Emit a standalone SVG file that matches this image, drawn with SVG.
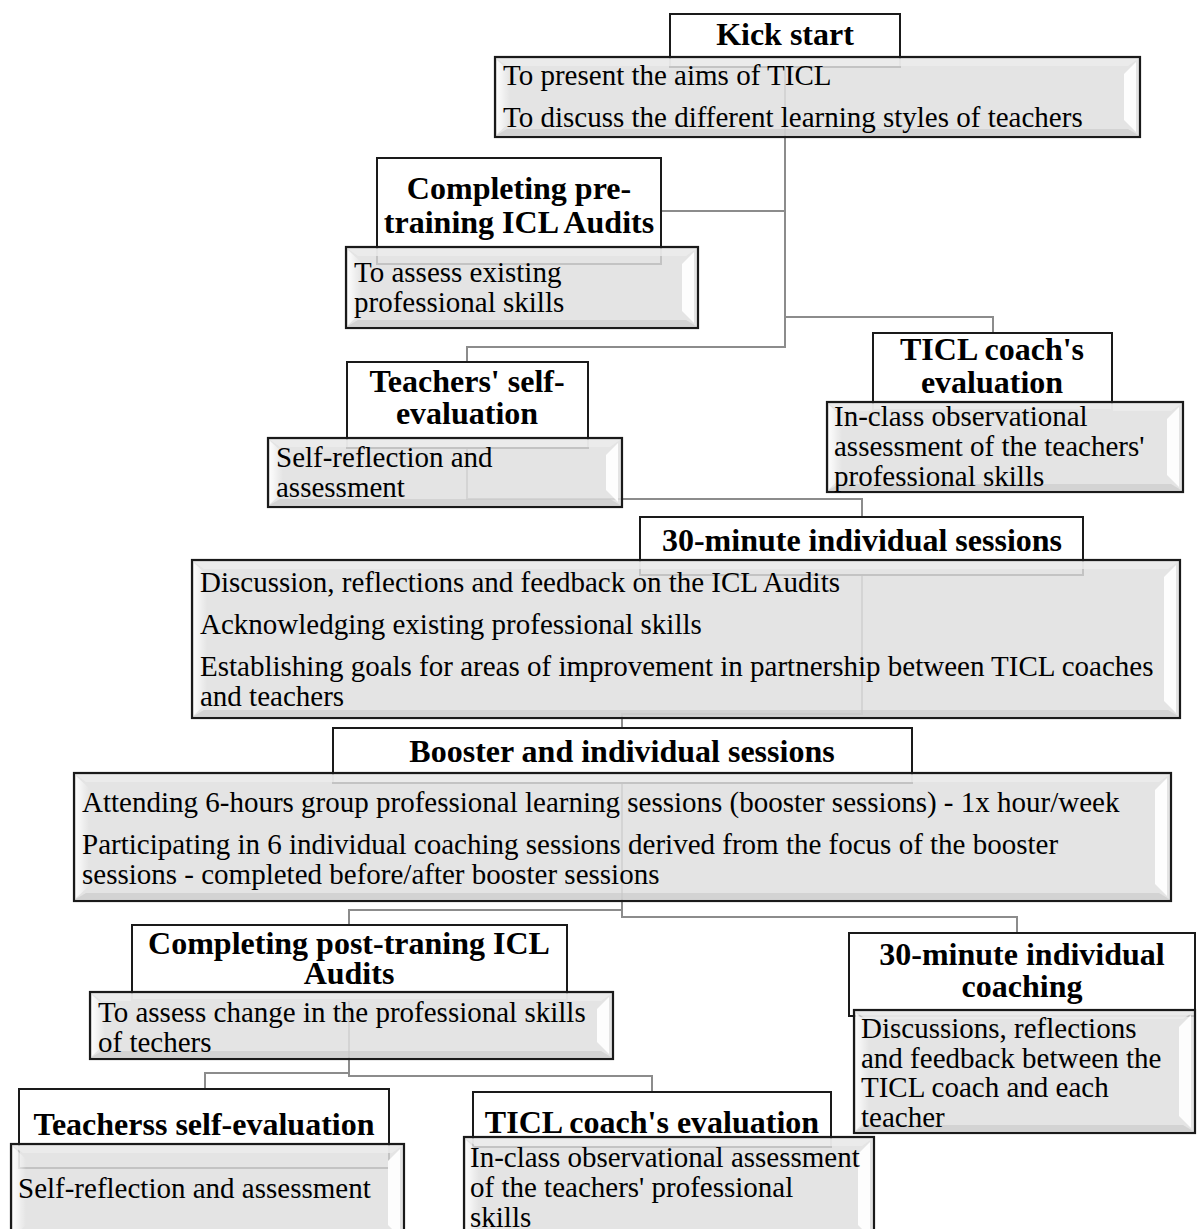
<svg xmlns="http://www.w3.org/2000/svg" width="1199" height="1229" viewBox="0 0 1199 1229">
<defs>
<style>
.hd{fill:#fff;stroke:#1a1a1a;stroke-width:2}
.bd{fill:#dfdfdf;fill-opacity:.86;stroke:#1a1a1a;stroke-width:2.2}
.hr{fill:#fff;opacity:.92}
.hl{fill:url(#lg)}
.tp{fill:#ececec;opacity:.8}
.bt{fill:#c4c4c4;opacity:.55}
.ht{font-family:"Liberation Serif","Times New Roman",serif;font-weight:bold;font-size:32px;fill:#000;text-anchor:middle}
.bx{font-family:"Liberation Serif","Times New Roman",serif;font-size:29px;fill:#000}
.cn{fill:none;stroke:#8c8c8c;stroke-width:2}
</style>
<linearGradient id="lg" x1="0" y1="0" x2="1" y2="0">
<stop offset="0" stop-color="#fff" stop-opacity=".9"/>
<stop offset="1" stop-color="#fff" stop-opacity="0"/>
</linearGradient>
</defs>
<rect width="1199" height="1229" fill="#fff"/>
<g id="connectors">
<path class="cn" d="M785,57 V347 H467 V362"/>
<path class="cn" d="M785,211 H661"/>
<path class="cn" d="M785,317 H993 V333"/>
<path class="cn" d="M467,438 V499 H862 V517"/>
<path class="cn" d="M862,560 V714 H622 V728"/>
<path class="cn" d="M622,773 V910 H349 V925"/>
<path class="cn" d="M622,910 V917 H1017 V933"/>
<path class="cn" d="M349,992 V1073 H205 V1089"/>
<path class="cn" d="M349,1073 V1076 H652 V1092"/>
</g>
<g id="kick-start">
<rect class="hd" x="670" y="14" width="230" height="53"/>
<rect class="bd" x="495" y="57" width="645" height="80"/>
<polygon class="tp" points="497,59 1138,59 1128,66 507,66"/>
<polygon class="bt" points="497,135 1138,135 1128,129 507,129"/>
<polygon class="hl" points="497,60 510,72 510,122 497,134"/>
<polygon class="hr" points="1136,62 1136,132 1124,120 1124,74"/>
<text class="ht" x="785" y="45">Kick start</text>
<text class="bx" x="503" y="85">To present the aims of TICL</text>
<text class="bx" x="503" y="127">To discuss the different learning styles of teachers</text>
</g>
<g id="pre-audits">
<rect class="hd" x="377" y="158" width="284" height="106"/>
<rect class="bd" x="346" y="247" width="352" height="81"/>
<polygon class="tp" points="348,249 696,249 686,256 358,256"/>
<polygon class="bt" points="348,326 696,326 686,320 358,320"/>
<polygon class="hl" points="348,250 361,262 361,313 348,325"/>
<polygon class="hr" points="694,252 694,323 682,311 682,264"/>
<text class="ht" x="519" y="199">Completing pre-</text>
<text class="ht" x="519" y="233">training ICL Audits</text>
<text class="bx" x="354" y="282">To assess existing</text>
<text class="bx" x="354" y="312">professional skills</text>
</g>
<g id="teachers-self">
<rect class="hd" x="347" y="362" width="241" height="86"/>
<rect class="bd" x="268" y="438" width="354" height="69"/>
<polygon class="tp" points="270,440 620,440 610,447 280,447"/>
<polygon class="bt" points="270,505 620,505 610,499 280,499"/>
<polygon class="hl" points="270,441 283,453 283,492 270,504"/>
<polygon class="hr" points="618,443 618,502 606,490 606,455"/>
<text class="ht" x="467" y="392">Teachers' self-</text>
<text class="ht" x="467" y="424">evaluation</text>
<text class="bx" x="276" y="467">Self-reflection and</text>
<text class="bx" x="276" y="497">assessment</text>
</g>
<g id="ticl-coach-1">
<rect class="hd" x="873" y="333" width="239" height="77"/>
<rect class="bd" x="827" y="402" width="356" height="90"/>
<polygon class="tp" points="829,404 1181,404 1171,411 839,411"/>
<polygon class="bt" points="829,490 1181,490 1171,484 839,484"/>
<polygon class="hl" points="829,405 842,417 842,477 829,489"/>
<polygon class="hr" points="1179,407 1179,487 1167,475 1167,419"/>
<text class="ht" x="992" y="360">TICL coach's</text>
<text class="ht" x="992" y="393">evaluation</text>
<text class="bx" x="834" y="426">In-class observational</text>
<text class="bx" x="834" y="456">assessment of the teachers'</text>
<text class="bx" x="834" y="486">professional skills</text>
</g>
<g id="sessions-30">
<rect class="hd" x="640" y="517" width="443" height="58"/>
<rect class="bd" x="192" y="560" width="988" height="158"/>
<polygon class="tp" points="194,562 1178,562 1168,569 204,569"/>
<polygon class="bt" points="194,716 1178,716 1168,710 204,710"/>
<polygon class="hl" points="194,563 207,575 207,703 194,715"/>
<polygon class="hr" points="1176,565 1176,713 1164,701 1164,577"/>
<text class="ht" x="862" y="551">30-minute individual sessions</text>
<text class="bx" x="200" y="592">Discussion, reflections and feedback on the ICL Audits</text>
<text class="bx" x="200" y="634">Acknowledging existing professional skills</text>
<text class="bx" x="200" y="676">Establishing goals for areas of improvement in partnership between TICL coaches</text>
<text class="bx" x="200" y="706">and teachers</text>
</g>
<g id="booster">
<rect class="hd" x="333" y="728" width="579" height="55"/>
<rect class="bd" x="74" y="773" width="1097" height="128"/>
<polygon class="tp" points="76,775 1169,775 1159,782 86,782"/>
<polygon class="bt" points="76,899 1169,899 1159,893 86,893"/>
<polygon class="hl" points="76,776 89,788 89,886 76,898"/>
<polygon class="hr" points="1167,778 1167,896 1155,884 1155,790"/>
<text class="ht" x="622" y="762">Booster and individual sessions</text>
<text class="bx" x="82" y="812">Attending 6-hours group professional learning sessions (booster sessions) - 1x hour/week</text>
<text class="bx" x="82" y="854">Participating in 6 individual coaching sessions derived from the focus of the booster</text>
<text class="bx" x="82" y="884">sessions - completed before/after booster sessions</text>
</g>
<g id="post-audits">
<rect class="hd" x="132" y="925" width="435" height="75"/>
<rect class="bd" x="90" y="992" width="523" height="67"/>
<polygon class="tp" points="92,994 611,994 601,1001 102,1001"/>
<polygon class="bt" points="92,1057 611,1057 601,1051 102,1051"/>
<polygon class="hl" points="92,995 105,1007 105,1044 92,1056"/>
<polygon class="hr" points="609,997 609,1054 597,1042 597,1009"/>
<text class="ht" x="349" y="954">Completing post-traning ICL</text>
<text class="ht" x="349" y="984">Audits</text>
<text class="bx" x="98" y="1022">To assess change in the professional skills</text>
<text class="bx" x="98" y="1052">of techers</text>
</g>
<g id="coaching-30">
<rect class="hd" x="849" y="933" width="346" height="83"/>
<rect class="bd" x="854" y="1010" width="341" height="123"/>
<polygon class="tp" points="856,1012 1193,1012 1183,1019 866,1019"/>
<polygon class="bt" points="856,1131 1193,1131 1183,1125 866,1125"/>
<polygon class="hl" points="856,1013 869,1025 869,1118 856,1130"/>
<polygon class="hr" points="1191,1015 1191,1128 1179,1116 1179,1027"/>
<text class="ht" x="1022" y="965">30-minute individual</text>
<text class="ht" x="1022" y="997">coaching</text>
<text class="bx" x="861" y="1038">Discussions, reflections</text>
<text class="bx" x="861" y="1068">and feedback between the</text>
<text class="bx" x="861" y="1097">TICL coach and each</text>
<text class="bx" x="861" y="1127">teacher</text>
</g>
<g id="teacherss-self">
<rect class="hd" x="19" y="1089" width="370" height="79"/>
<rect class="bd" x="11" y="1144" width="393" height="96"/>
<polygon class="tp" points="13,1146 402,1146 392,1153 23,1153"/>
<polygon class="hl" points="13,1147 26,1159 26,1225 13,1237"/>
<polygon class="hr" points="400,1149 400,1237 388,1225 388,1161"/>
<text class="ht" x="204" y="1135">Teacherss self-evaluation</text>
<text class="bx" x="18" y="1198">Self-reflection and assessment</text>
</g>
<g id="ticl-coach-2">
<rect class="hd" x="473" y="1092" width="358" height="55"/>
<rect class="bd" x="464" y="1137" width="410" height="103"/>
<polygon class="tp" points="466,1139 872,1139 862,1146 476,1146"/>
<polygon class="hl" points="466,1140 479,1152 479,1225 466,1237"/>
<polygon class="hr" points="870,1142 870,1237 858,1225 858,1154"/>
<text class="ht" x="652" y="1133">TICL coach's evaluation</text>
<text class="bx" x="470" y="1167">In-class observational assessment</text>
<text class="bx" x="470" y="1197">of the teachers' professional</text>
<text class="bx" x="470" y="1227">skills</text>
</g>
</svg>
